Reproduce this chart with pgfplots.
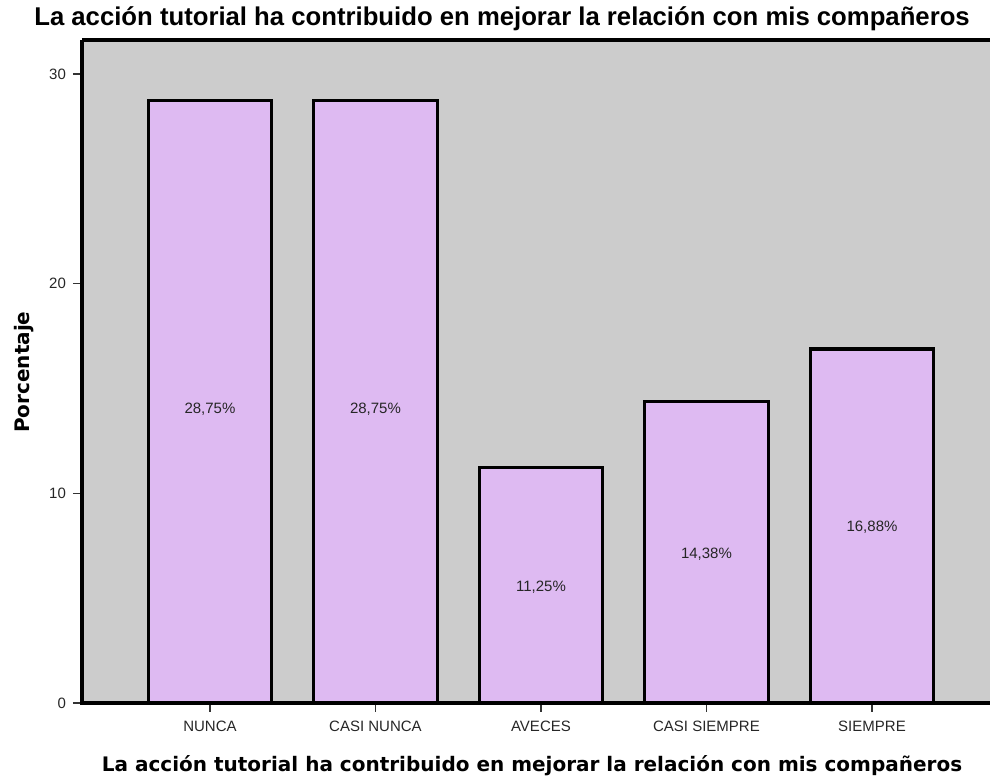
\documentclass[border=0pt]{standalone}
\usepackage{pgfplots}
\pgfplotsset{compat=1.18}
\usepackage{fontspec}
\setmainfont{Liberation Sans}
\newfontfamily\labfont{DejaVu Sans}

\definecolor{plotbg}{RGB}{204,204,204}
\definecolor{barfill}{RGB}{222,186,242}

\begin{document}
\begin{tikzpicture}
\useasboundingbox (-41pt,-38.5pt) rectangle (454pt,351.5pt);
\begin{axis}[
    at={(0pt,0pt)}, anchor=south west,
    scale only axis,
    width=454pt, height=331.5pt,
    xmin=-0.773, xmax=4.713,
    ymin=0, ymax=31.62,
    axis background/.style={fill=plotbg},
    axis line style={draw=none},
    xtick={0,1,2,3,4},
    xticklabels={NUNCA,CASI NUNCA,AVECES,CASI SIEMPRE,SIEMPRE},
    ytick={0,10,20,30},
    xtick pos=bottom, ytick pos=left,
    tick align=outside,
    major tick length=4.5pt,
    tick style={line width=0.6pt, black!80},
    ticklabel style={font=\fontsize{7.5}{9}\selectfont, text=black!85},
    /pgf/number format/assume math mode=true,
    xticklabel style={yshift=-1pt},
    clip=false,
]
\addplot[ybar, bar width=0.745, bar shift=0pt, fill=barfill, draw=black, line width=1.6pt]
  coordinates {(0,28.75) (1,28.75) (2,11.25) (3,14.38) (4,16.88)};
\addplot[draw=none, nodes near coords, point meta=explicit symbolic,
  every node near coord/.style={anchor=center, font=\fontsize{7.5}{9}\selectfont, text=black!85}]
  coordinates {(0,14.0) [28,75\%] (1,14.0) [28,75\%] (2,5.5) [11,25\%]
               (3,7.1) [14,38\%] (4,8.4) [16,88\%]};
\draw[line width=2pt] (rel axis cs:0,1) -- (rel axis cs:0,0) -- (rel axis cs:1,0);
\draw[line width=2pt] (rel axis cs:0,1) -- (rel axis cs:1,1);
\node[font=\bfseries\fontsize{12.85}{15}\selectfont] at (rel axis cs:0.4626,1.032) {La acción tutorial ha contribuido en mejorar la relación con mis compañeros};
\node[font=\labfont\bfseries\fontsize{10}{12}\selectfont] at (rel axis cs:0.4956,-0.095) {La acción tutorial ha contribuido en mejorar la relación con mis compañeros};
\node[font=\labfont\bfseries\fontsize{10}{12}\selectfont, rotate=90] at (rel axis cs:-0.0639,0.499) {Porcentaje};
\end{axis}
\end{tikzpicture}
\end{document}
